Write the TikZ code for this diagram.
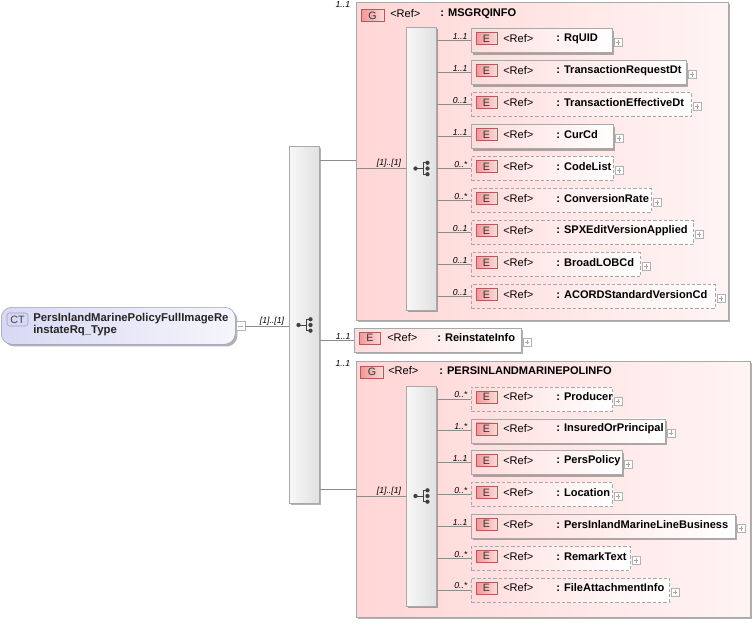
\documentclass[tikz,border=0pt]{standalone}
\usepackage{fontspec}
\setmainfont{Liberation Sans}
\usetikzlibrary{shadows,calc}
\definecolor{gfillL}{HTML}{FFD6D6}
\definecolor{gfillR}{HTML}{FFF4F4}
\definecolor{efillL}{HTML}{FFDCDC}
\definecolor{bdr}{HTML}{A8A8A8}
\definecolor{badgeL}{HTML}{F09898}
\definecolor{badgeR}{HTML}{FCDADA}
\definecolor{badgeB}{HTML}{B45A5A}
\definecolor{ctL}{HTML}{D8D8F4}
\definecolor{ctB}{HTML}{9C9CC4}
\definecolor{lin}{HTML}{8C8C8C}
\tikzset{
 shad/.style={drop shadow={shadow xshift=1.6pt, shadow yshift=-1.6pt, fill=black, opacity=0.3}},
 gbox/.style={draw=bdr, left color=gfillL, right color=gfillR, shad, anchor=north west, inner sep=0},
 ebox/.style={draw=bdr, left color=efillL, right color=white, anchor=west, minimum height=18pt, inner sep=0},
 req/.style={shad},
 opt/.style={dash pattern=on 2.5pt off 1.5pt},
 seqbox/.style={draw=bdr, left color=gray!6, right color=gray!24, shad, anchor=north west, inner sep=0, minimum width=22.5pt},
 badge/.style={draw=badgeB, left color=badgeL, right color=badgeR, minimum width=15.75pt, minimum height=9pt, inner sep=0, font=\fontsize{8}{8}\selectfont, text=black!80},
 reft/.style={anchor=west, inner sep=0, font=\fontsize{8.3}{9}\selectfont},
 namet/.style={anchor=west, inner sep=0, font=\fontsize{8.3}{9}\selectfont\bfseries},
 card/.style={inner sep=0.5pt, font=\fontsize{6.5}{7}\selectfont\itshape},
 conn/.style={draw=lin, line width=0.5pt},
 pbox/.style={draw=gray!60, fill=white, minimum size=6pt, inner sep=0,
   path picture={\draw[gray!70,line width=0.4pt]
     ([xshift=-1.8pt]path picture bounding box.center) -- ([xshift=1.8pt]path picture bounding box.center)
     ([yshift=-1.8pt]path picture bounding box.center) -- ([yshift=1.8pt]path picture bounding box.center);}},
 mbox/.style={draw=gray!60, fill=white, minimum size=6.5pt, inner sep=0,
   path picture={\draw[gray!70,line width=0.4pt]
     ([xshift=-1.8pt]path picture bounding box.center) -- ([xshift=1.8pt]path picture bounding box.center);}},
}
\newcommand\erow[7]{%
 \node[ebox,#4,minimum width={(#3-471)*0.75pt}] (#1) at (471,#2) {};
 \node[badge] (#1b) at (486.5,#2-2) {E};
 \node[reft] (#1r) at (503,#2-2) {<Ref>};
 \node[namet] (#1n) at (556,#2-2) {: #6};
 \node[pbox] (#1p) at (#3+6,#2+2) {};
 \draw[conn] (#7.east |- #1.west) -- node[card,pos=1,anchor=south east,xshift=-2pt]{#5} (#1.west);
}
\newcommand\seqsym[2]{%
 \draw[black!75,line width=0.6pt] (#1-6,#2) -- (#1+1.5,#2) (#1+1.5,#2-5.7) -- (#1+1.5,#2+5.7)
   (#1+1.5,#2-5.7) -- (#1+6,#2-5.7) (#1+1.5,#2+5.7) -- (#1+6,#2+5.7);
 \fill[black!75] (#1-6,#2) circle (1.6pt) (#1+6,#2-5.7) circle (1.6pt) (#1+6,#2) circle (1.6pt) (#1+6,#2+5.7) circle (1.6pt);
}
\begin{document}
\begin{tikzpicture}[x=0.75pt,y=-0.75pt]
\useasboundingbox (0,0) rectangle (756,622);
% complex type
\node[draw=ctB, left color=ctL, right color=ctL!25!white, rounded corners=8pt, shad, anchor=north west,
  minimum width=175.5pt, minimum height=27.75pt, inner sep=0] (ct) at (1,307) {};
\node[draw=ctB, fill=ctL, rounded corners=2pt, minimum width=15.75pt, minimum height=9.75pt, inner sep=0,
  font=\fontsize{8}{8}\selectfont, text=black!75] (ctb) at (17.5,319.5) {CT};
\node[anchor=west, align=left, inner sep=0, font=\fontsize{8.5}{8.4}\selectfont\bfseries, text=black!85]
  (ctt) at (33,324.5) {PersInlandMarinePolicyFullImageRe\\instateRq\_Type};
\node[mbox] (ctm) at (240.5,326) {};
% outer sequence
\node[seqbox, minimum height=267.75pt] (s0) at (289,146) {};
\seqsym{304.5}{325}
\draw[conn] (ctm.east) -- node[card,pos=1,anchor=south east,xshift=-3pt]{[1]..[1]} (s0.west |- ctm.east);
% group 1
\node[gbox, minimum width=279pt, minimum height=238.5pt] (g1) at (356,2) {};
\node[card, anchor=north east] (g1c) at (351,1) {1..1};
\node[badge, minimum width=17pt] (g1b) at (372.5,15.5) {G};
\node[reft] (g1r) at (390,14) {<Ref>};
\node[namet] (g1n) at (440,14) {: MSGRQINFO};
\coordinate (g1in) at (356,160);
\draw[conn] (s0.east |- g1in) -- (g1in);
\node[seqbox, minimum height=212.25pt] (s1) at (406,27) {};
\seqsym{421.5}{168.5}
\draw[conn] (g1.west |- s1.west) -- node[card,pos=1,anchor=south east,xshift=-3pt]{[1]..[1]} (s1.west);
\erow{a1}{40.5}{612}{req}{1..1}{RqUID}{s1}
\erow{a2}{72.5}{686}{req}{1..1}{TransactionRequestDt}{s1}
\erow{a3}{104.5}{691}{opt}{0..1}{TransactionEffectiveDt}{s1}
\erow{a4}{136.5}{613}{req}{1..1}{CurCd}{s1}
\erow{a5}{168.5}{613}{opt}{0..*}{CodeList}{s1}
\erow{a6}{200.5}{651}{opt}{0..*}{ConversionRate}{s1}
\erow{a7}{232.5}{693}{opt}{0..1}{SPXEditVersionApplied}{s1}
\erow{a8}{264.5}{640}{opt}{0..1}{BroadLOBCd}{s1}
\erow{a9}{296.5}{715}{opt}{0..1}{ACORDStandardVersionCd}{s1}
% ReinstateInfo
\node[ebox, req, minimum width=125.25pt] (ri) at (354,340) {};
\node[badge] (rib) at (370,338) {E};
\node[reft] (rir) at (387,338) {<Ref>};
\node[namet] (rin) at (437,338) {: ReinstateInfo};
\node[pbox] (rip) at (527,342) {};
\draw[conn] (s0.east |- ri.west) -- node[card,pos=1,anchor=south east,xshift=-2pt]{1..1} (ri.west);
% group 3
\node[gbox, minimum width=295.5pt, minimum height=192pt] (g3) at (356,361) {};
\node[card, anchor=north east] (g3c) at (351,360) {1..1};
\node[badge, minimum width=17pt] (g3b) at (372,372) {G};
\node[reft] (g3r) at (388,371) {<Ref>};
\node[namet] (g3n) at (439,371) {: PERSINLANDMARINEPOLINFO};
\coordinate (g3in) at (356,489);
\draw[conn] (s0.east |- g3in) -- (g3in);
\node[seqbox, minimum height=165pt] (s3) at (406,386) {};
\seqsym{421.5}{496}
\draw[conn] (g3.west |- s3.west) -- node[card,pos=1,anchor=south east,xshift=-3pt]{[1]..[1]} (s3.west);
\erow{b1}{399}{612}{opt}{0..*}{Producer}{s3}
\erow{b2}{430.8}{665}{req}{1..*}{InsuredOrPrincipal}{s3}
\erow{b3}{462.7}{622}{req}{1..1}{PersPolicy}{s3}
\erow{b4}{494.5}{612}{opt}{0..*}{Location}{s3}
\erow{b5}{526.3}{735}{req}{1..1}{PersInlandMarineLineBusiness}{s3}
\erow{b6}{558.2}{630}{opt}{0..*}{RemarkText}{s3}
\erow{b7}{590}{669}{opt}{0..*}{FileAttachmentInfo}{s3}
\end{tikzpicture}
\end{document}
